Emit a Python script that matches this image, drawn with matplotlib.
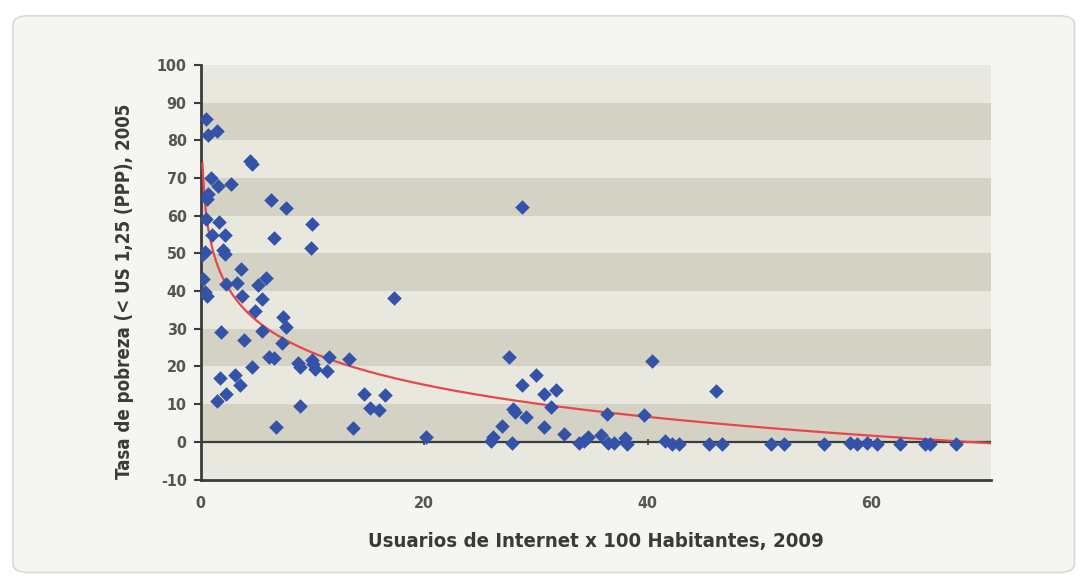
import matplotlib.pyplot as plt
import numpy as np
from matplotlib.patches import FancyBboxPatch

# Internet users per 100 inhabitants (2009) vs. poverty rate (< US$1.25 PPP, 2005)
internet_users = [
    0.5, 0.7, 1.5, 4.45, 4.6, 0.9, 1.6, 2.7, 0.64, 0.55,
    6.3, 7.65, 0.5, 1.65, 10.0, 1.05, 2.2, 6.6, 2.05, 2.2,
    9.85, 0.17, 0.4, 3.6, 0.2, 0.4, 0.55, 2.28, 3.3, 5.9,
    5.1, 3.75, 5.5, 4.9, 7.4, 7.65, 1.8, 5.5, 3.85, 7.3,
    6.15, 6.6, 8.75, 8.9, 9.95, 10.1, 10.2, 11.45, 11.3, 13.3,
    4.6, 1.75, 3.1, 3.5, 1.5, 2.3, 8.9, 6.75, 13.6, 14.6,
    15.2, 16.0, 16.5, 17.3, 20.2, 28.8, 27.6, 30.0, 28.8, 30.75,
    31.8, 31.35, 28.0, 28.15, 29.1, 27.0, 30.75, 32.5, 26.2, 26.0,
    27.85, 33.9, 34.3, 34.7, 35.8, 36.5, 37.0, 36.4, 38.0, 38.15,
    39.65, 40.4, 41.6, 42.2, 42.8, 46.1, 45.5, 46.7, 51.0, 52.2,
    55.8, 58.1, 58.75, 59.6, 60.5, 62.6, 64.8, 65.3, 67.6,
]
poverty_rate = [
    85.8, 81.4, 82.4, 74.5, 73.8, 70.0, 67.8, 68.3, 65.7, 64.5,
    64.1, 62.1, 59.2, 58.3, 57.9, 54.8, 54.8, 54.1, 51.0, 49.9,
    51.4, 49.7, 50.3, 45.8, 43.3, 39.7, 38.6, 41.9, 42.2, 43.5,
    41.5, 38.6, 38.0, 34.8, 33.2, 30.6, 29.1, 29.3, 27.0, 26.2,
    22.4, 22.2, 20.8, 19.9, 21.7, 20.7, 19.3, 22.4, 18.9, 22.0,
    19.9, 16.9, 17.8, 15.2, 10.9, 12.8, 9.6, 4.0, 3.6, 12.7,
    9.1, 8.5, 12.4, 38.1, 1.3, 62.2, 22.4, 17.8, 15.1, 12.8,
    13.7, 9.3, 8.7, 7.8, 6.5, 4.3, 4.0, 2.2, 1.3, 0.1,
    -0.4, -0.4, 0.1, 1.3, 1.9, -0.4, -0.4, 7.4, 1.1, -0.6,
    7.2, 21.5, 0.3, -0.6, -0.6, 13.4, -0.6, -0.6, -0.6, -0.6,
    -0.6, -0.4, -0.6, -0.4, -0.6, -0.6, -0.6, -0.6, -0.6,
]

# logarithmic trend line y = a*ln(x) + b
trend_slope = -12.3
trend_intercept = 52.0

x_ticks = [0, 20, 40, 60]
y_ticks = list(range(-10, 101, 10))

x = np.array(internet_users)
y = np.array(poverty_rate)

x_fit = np.linspace(x.min(), 70.7, 400)
y_fit = trend_slope * np.log(x_fit) + trend_intercept

plt.rcParams["font.family"] = ["DejaVu Sans"]
plt.rcParams["font.stretch"] = "condensed"
plt.rcParams["axes.unicode_minus"] = False

fig = plt.figure(figsize=(10.81, 5.83), dpi=100)
fig.patch.set_facecolor("white")

# rounded card behind the chart
card = FancyBboxPatch((0.012, 0.018), 0.982, 0.955,
                      boxstyle="round,pad=0,rounding_size=0.015",
                      transform=fig.transFigure, fc="#f5f6f2", ec="#d9dad6",
                      lw=1.2, zorder=-10)
fig.patches.append(card)

ax = fig.add_axes([0.1855, 0.1775, 0.731, 0.711])
ax.set_xlim(0, 70.7)
ax.set_ylim(-10, 100)

# alternating horizontal bands
for i, lo in enumerate(range(-10, 100, 10)):
    ax.axhspan(lo, lo + 10, color="#e9e8df" if i % 2 == 0 else "#d4d2c5",
               lw=0, zorder=0)

ax.axhline(0, color="#3c3c3c", lw=1.6, zorder=2)
ax.plot(x_ticks[1:], [0] * 3, ls="none", marker="|", ms=5, mew=1.2,
        color="#3c3c3c", zorder=2)

ax.plot(x_fit, y_fit, color="#e8464b", lw=1.6, zorder=3)
ax.scatter(x, y, marker="D", s=55, color="#3352a8", lw=0, zorder=4)

for side in ("top", "right"):
    ax.spines[side].set_visible(False)
ax.spines["left"].set_color("#3c3c3c")
ax.spines["left"].set_linewidth(2)
ax.spines["bottom"].set_color("#3c3c3c")
ax.spines["bottom"].set_linewidth(2)

ax.set_xticks(x_ticks)
ax.set_yticks(y_ticks)
ax.tick_params(axis="x", length=0, pad=12, labelsize=11.5, labelcolor="#555555")
ax.tick_params(axis="y", length=5, width=1.5, color="#3c3c3c", pad=5,
               labelsize=11.5, labelcolor="#555555")
for lbl in ax.get_xticklabels() + ax.get_yticklabels():
    lbl.set_fontweight("bold")

ax.set_xlabel("Usuarios de Internet x 100 Habitantes, 2009", fontsize=14.6,
              fontweight="bold", color="#3a3a3a", labelpad=15)
ax.set_ylabel("Tasa de pobreza (< US 1,25 (PPP), 2005", fontsize=13.4,
              fontweight="bold", color="#3a3a3a")
ax.yaxis.set_label_coords(-0.084, 0.455)

fig.savefig("out.png", dpi=100)
